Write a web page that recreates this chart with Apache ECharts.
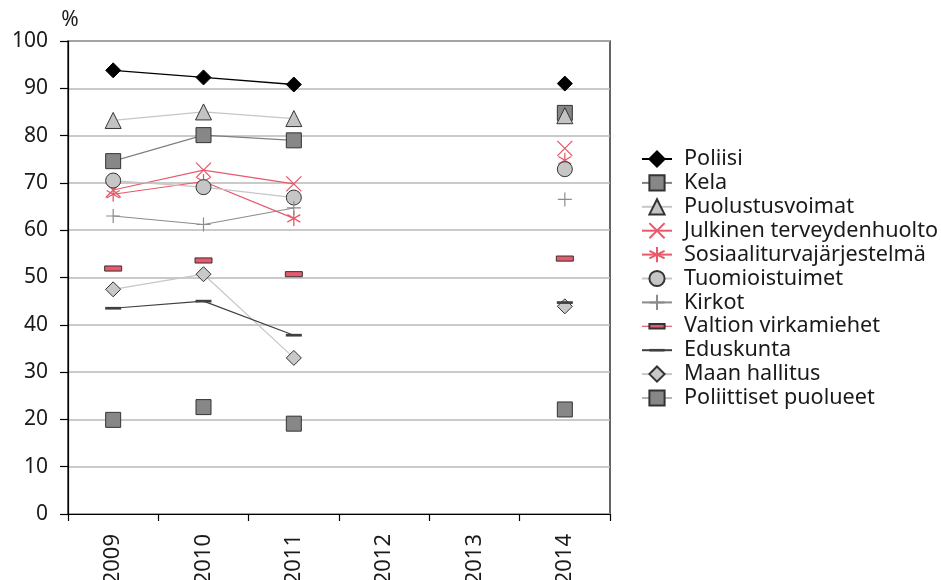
<!DOCTYPE html>
<html>
<head>
<meta charset="utf-8">
<script src="https://cdn.jsdelivr.net/npm/echarts@6/dist/echarts.min.js"></script>
<style>
html,body{margin:0;padding:0;background:#fff;}
#c{width:941px;height:580px;}
</style>
</head>
<body>
<div id="c"></div>
<script>
var years = ['2009', '2010', '2011', '2012', '2013', '2014'];
var yTicks = [0, 10, 20, 30, 40, 50, 60, 70, 80, 90, 100];

var poliisi = [93.8, 92.3, 90.8, null, null, 91.0];
var kela = [74.6, 80.1, 79.0, null, null, 84.8];
var puolustusvoimat = [83.2, 85.0, 83.6, null, null, 84.2];
var julkinenTerveydenhuolto = [68.5, 72.7, 69.8, null, null, 77.3];
var sosiaaliturva = [67.6, 70.3, 62.5, null, null, 74.8];
var tuomioistuimet = [70.5, 69.1, 66.9, null, null, 72.9];
var kirkot = [63.0, 61.2, 64.7, null, null, 66.5];
var valtionVirkamiehet = [51.9, 53.6, 50.7, null, null, 54.0];
var eduskunta = [43.5, 45.0, 37.8, null, null, 44.7];
var maanHallitus = [47.5, 50.7, 33.0, null, null, 43.9];
var poliittisetPuolueet = [19.9, 22.6, 19.1, null, null, 22.1];

var PINK = '#e8596c';
var FONT = 'Noto Sans';

var X_PATH = 'path://M0,0L20,20M20,0L0,20';
var AST_PATH = 'path://M10,0L10,20M1.34,5L18.66,15M18.66,5L1.34,15';
var PLUS_PATH = 'path://M10,0L10,20M0,10L20,10';
var RECT_PATH = 'path://M0,0M20,20M0,7L20,7L20,13L0,13Z';
var DASH_PATH = 'path://M0,0M20,20M0,8.3L20,8.3L20,11.7L0,11.7Z';

function ser(name, data, o) {
  return {
    name: name,
    type: 'line',
    data: data,
    connectNulls: false,
    symbol: o.symbol,
    symbolSize: o.size,
    symbolKeepAspect: true,
    z: o.z || 2,
    lineStyle: { color: o.line, width: o.lw || 1.2, opacity: o.noLine ? 0 : 1 },
    itemStyle: { color: o.fill, borderColor: o.border, borderWidth: o.bw === undefined ? 1 : o.bw },
    emphasis: { disabled: true }
  };
}

var series = [
  ser('Poliisi', poliisi, { symbol: 'diamond', size: 15, fill: '#000', border: '#000', line: '#000', lw: 1.4 }),
  ser('Kela', kela, { symbol: 'rect', size: 15, fill: '#878787', border: '#333', line: '#808080' }),
  ser('Puolustusvoimat', puolustusvoimat, { symbol: 'triangle', size: 16, fill: '#c3c3c3', border: '#333', line: '#c6c6c6' }),
  ser('Julkinen terveydenhuolto', julkinenTerveydenhuolto, { symbol: X_PATH, size: 15, fill: 'none', border: PINK, bw: 1.3, line: PINK }),
  ser('Sosiaaliturvajärjestelmä', sosiaaliturva, { symbol: AST_PATH, size: 15, fill: 'none', border: PINK, bw: 1.3, line: PINK }),
  ser('Tuomioistuimet', tuomioistuimet, { symbol: 'circle', size: 15, fill: '#c6c6c6', border: '#333', line: '#c6c6c6' }),
  ser('Kirkot', kirkot, { symbol: PLUS_PATH, size: 14, fill: 'none', border: '#8c8c8c', bw: 1.2, line: '#8c8c8c' }),
  ser('Valtion virkamiehet', valtionVirkamiehet, { symbol: RECT_PATH, size: 17, fill: PINK, border: '#333', line: PINK, noLine: true }),
  ser('Eduskunta', eduskunta, { symbol: DASH_PATH, size: 16, fill: '#404040', border: '#404040', bw: 0, line: '#404040', z: 4 }),
  ser('Maan hallitus', maanHallitus, { symbol: 'diamond', size: 15, fill: '#c8c8c8', border: '#333', line: '#c6c6c6', z: 3 }),
  ser('Poliittiset puolueet', poliittisetPuolueet, { symbol: 'rect', size: 15, fill: '#878787', border: '#333', line: '#808080', noLine: true })
];

var legendData = series.map(function (s) {
  var d = { name: s.name };
  if (s.lineStyle.opacity === 0) {
    d.lineStyle = { opacity: 1, color: s.lineStyle.color, width: 1.2 };
  }
  return d;
});

var chart = echarts.init(document.getElementById('c'), null, { renderer: 'canvas' });
chart.setOption({
  animation: false,
  backgroundColor: '#fff',
  grid: { left: 68, right: 331, top: 41, bottom: 66, containLabel: false, outerBoundsMode: 'none', show: true, borderColor: '#333', borderWidth: 1.5, backgroundColor: 'transparent' },
  legend: {
    orient: 'vertical',
    left: 636,
    top: 143,
    itemWidth: 30,
    itemHeight: 19,
    itemGap: 1.9,
    data: legendData,
    textStyle: { fontFamily: FONT, fontSize: 21.6, color: '#1a1a1a', lineHeight: 22, padding: [0, 0, 0, 7] },
    selectedMode: false
  },
  xAxis: {
    type: 'category',
    data: years,
    boundaryGap: true,
    axisLine: { lineStyle: { color: '#000', width: 1.2 } },
    axisTick: { show: true, length: 7, lineStyle: { color: '#000', width: 1.2 } },
    axisLabel: { rotate: 90, margin: 20, fontFamily: FONT, fontSize: 22, color: '#1a1a1a' },
    splitLine: { show: false }
  },
  yAxis: {
    type: 'value',
    min: yTicks[0],
    max: yTicks[yTicks.length - 1],
    interval: 10,
    name: '%',
    nameLocation: 'end',
    nameGap: 10,
    nameTextStyle: { fontFamily: FONT, fontSize: 21, color: '#1a1a1a', padding: [0, 0, 0, 4] },
    axisLine: { show: true, lineStyle: { color: '#000', width: 1.2 } },
    axisTick: { show: true, length: 8, lineStyle: { color: '#000', width: 1.2 } },
    axisLabel: { margin: 20, fontFamily: FONT, fontSize: 21, color: '#1a1a1a' },
    splitLine: { show: true, lineStyle: { color: '#b9b9b9', width: 1.5 } }
  },
  series: series
});
</script>
</body>
</html>
